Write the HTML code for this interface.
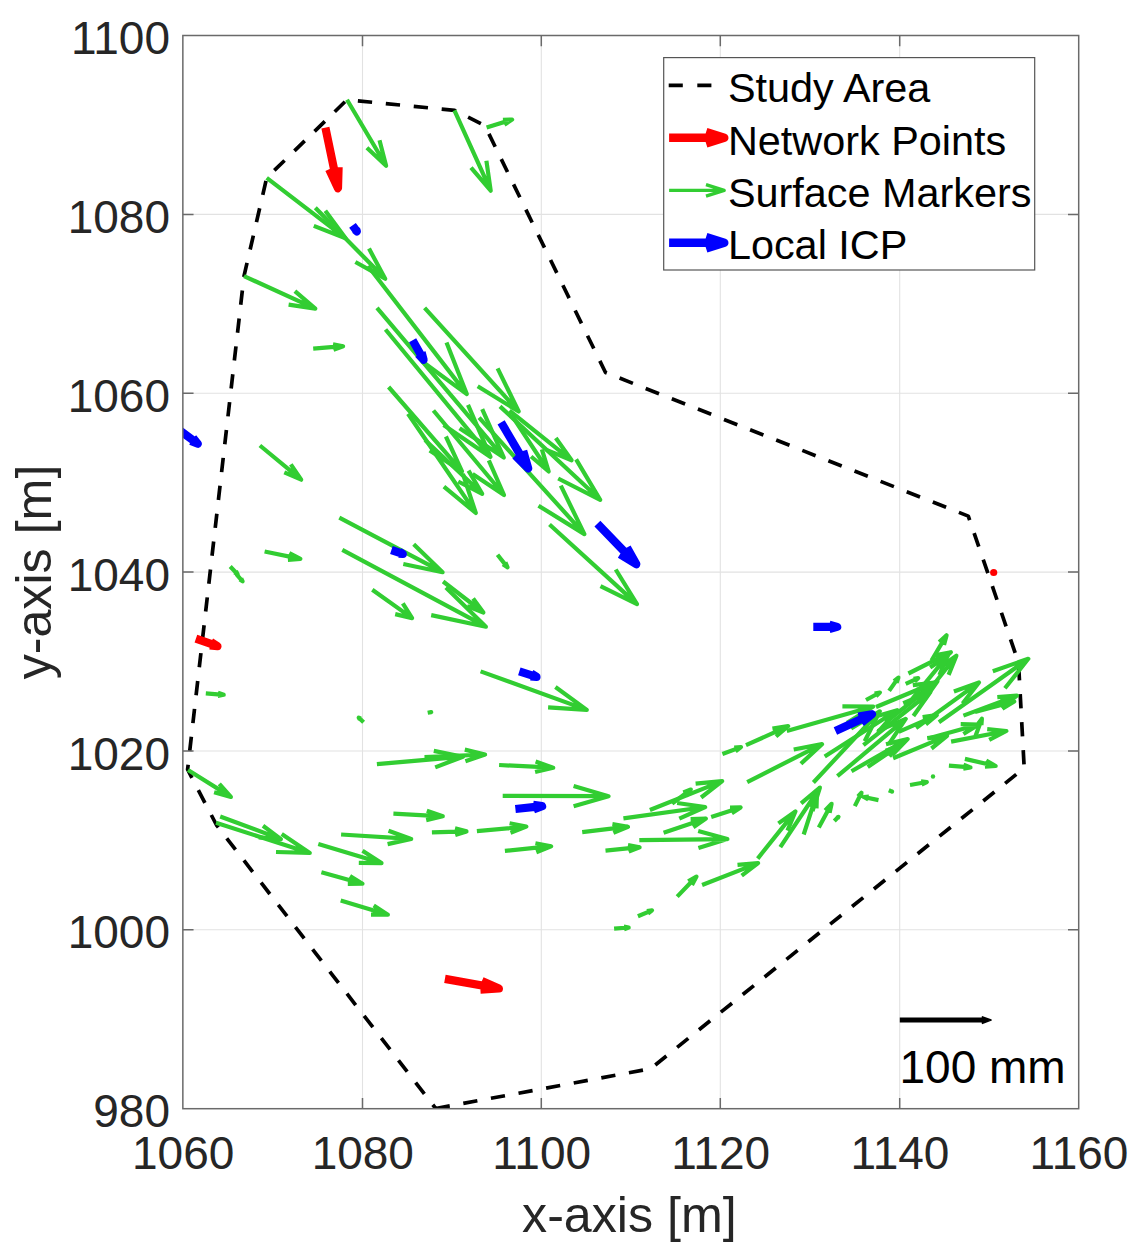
<!DOCTYPE html>
<html><head><meta charset="utf-8"><title>Displacement vectors</title>
<style>
html,body{margin:0;padding:0;background:#fff;}
body{width:1135px;height:1257px;position:relative;overflow:hidden;font-family:"Liberation Sans",sans-serif;}
.t{position:absolute;white-space:nowrap;line-height:1;font-family:"Liberation Sans",sans-serif;}
</style></head><body>
<svg width="1135" height="1257" viewBox="0 0 1135 1257" style="position:absolute;left:0;top:0">
<rect x="0" y="0" width="1135" height="1257" fill="#fff"/>
<path d="M362.5 35.5V1108.7M541.3 35.5V1108.7M720.3 35.5V1108.7M899.7 35.5V1108.7M182.85 929.8H1078.7M182.85 751.0H1078.7M182.85 572.1H1078.7M182.85 393.2H1078.7M182.85 214.4H1078.7" stroke="#e2e2e2" stroke-width="1.1" fill="none"/>
<defs><clipPath id="c"><rect x="182.85" y="35.5" width="895.85" height="1073.2"/></clipPath></defs>
<g clip-path="url(#c)">
<path d="M435.7 1108.5L650.5 1068.8L1024.2 768.0L1018.5 662.5L968.3 516.1L605.5 372.5L484.8 125.5L454.6 110.4L347.0 99.8L266.7 177.8L244.0 276.1L187.6 769.5L216.5 825.0L435.7 1108.5" fill="none" stroke="#000" stroke-width="3.7" stroke-dasharray="14.3 13.77" stroke-dashoffset="0" stroke-linejoin="round"/>
<path d="M325.4 127.6L338.0 188.2M329.1 169.2L338.0 188.2L338.6 167.2" stroke="#FF0000" stroke-width="8.2" fill="none" stroke-linejoin="round" stroke-linecap="butt"/>
<path d="M195.9 638.6L217.5 646.1M209.8 645.3L217.5 646.1L210.9 641.9" stroke="#FF0000" stroke-width="8.2" fill="none" stroke-linejoin="round" stroke-linecap="butt"/>
<path d="M444.9 978.9L498.9 988.5M480.4 989.6L498.9 988.5L481.9 981.0" stroke="#FF0000" stroke-width="8.2" fill="none" stroke-linejoin="round" stroke-linecap="butt"/>
<circle cx="993.7" cy="572.5" r="3.6" fill="#FF0000"/>
<path d="M347.0 99.8L386.1 165.7M366.9 147.7L386.1 165.7L379.5 140.2" stroke="#32CD32" stroke-width="4.2" fill="none" stroke-linejoin="round" stroke-linecap="butt"/>
<path d="M454.4 110.4L490.7 190.7M471.0 167.6L490.7 190.7L486.4 160.7" stroke="#32CD32" stroke-width="4.2" fill="none" stroke-linejoin="round" stroke-linecap="butt"/>
<path d="M486.6 127.6L512.1 119.6M504.4 124.7L512.1 119.6L502.9 119.8" stroke="#32CD32" stroke-width="4.2" fill="none" stroke-linejoin="round" stroke-linecap="butt"/>
<path d="M266.7 177.8L345.6 238.3M313.8 225.9L345.6 238.3L325.3 210.8" stroke="#32CD32" stroke-width="4.2" fill="none" stroke-linejoin="round" stroke-linecap="butt"/>
<path d="M315.3 207.7L385.2 278.7M355.4 262.0L385.2 278.7L369.0 248.6" stroke="#32CD32" stroke-width="4.2" fill="none" stroke-linejoin="round" stroke-linecap="butt"/>
<path d="M368.0 266.0L466.8 394.1M421.9 361.3L466.8 394.1L446.5 342.4" stroke="#32CD32" stroke-width="4.2" fill="none" stroke-linejoin="round" stroke-linecap="butt"/>
<path d="M244.0 276.1L315.3 308.7M288.6 304.7L315.3 308.7L294.9 291.1" stroke="#32CD32" stroke-width="4.2" fill="none" stroke-linejoin="round" stroke-linecap="butt"/>
<path d="M313.2 348.6L343.1 346.2M333.5 349.9L343.1 346.2L333.0 344.2" stroke="#32CD32" stroke-width="4.2" fill="none" stroke-linejoin="round" stroke-linecap="butt"/>
<path d="M259.9 445.5L301.2 479.7M284.3 472.3L301.2 479.7L290.8 464.4" stroke="#32CD32" stroke-width="4.2" fill="none" stroke-linejoin="round" stroke-linecap="butt"/>
<path d="M424.6 307.8L518.7 411.5M477.7 386.3L518.7 411.5L497.6 368.3" stroke="#32CD32" stroke-width="4.2" fill="none" stroke-linejoin="round" stroke-linecap="butt"/>
<path d="M377.0 307.8L503.8 457.6M459.6 428.2L503.8 457.6L482.2 409.1" stroke="#32CD32" stroke-width="4.2" fill="none" stroke-linejoin="round" stroke-linecap="butt"/>
<path d="M385.5 329.5L490.5 456.9M443.6 424.9L490.5 456.9L468.0 404.8" stroke="#32CD32" stroke-width="4.2" fill="none" stroke-linejoin="round" stroke-linecap="butt"/>
<path d="M388.6 387.0L462.0 471.4M429.7 450.6L462.0 471.4L445.9 436.5" stroke="#32CD32" stroke-width="4.2" fill="none" stroke-linejoin="round" stroke-linecap="butt"/>
<path d="M408.0 413.7L475.8 513.0M443.9 486.7L475.8 513.0L462.9 473.8" stroke="#32CD32" stroke-width="4.2" fill="none" stroke-linejoin="round" stroke-linecap="butt"/>
<path d="M433.4 410.5L504.0 495.0M472.6 473.9L504.0 495.0L488.8 460.4" stroke="#32CD32" stroke-width="4.2" fill="none" stroke-linejoin="round" stroke-linecap="butt"/>
<path d="M425.0 440.0L482.2 493.8M458.2 481.5L482.2 493.8L468.5 470.6" stroke="#32CD32" stroke-width="4.2" fill="none" stroke-linejoin="round" stroke-linecap="butt"/>
<path d="M500.0 406.4L600.2 499.8M558.2 478.5L600.2 499.8L576.1 459.4" stroke="#32CD32" stroke-width="4.2" fill="none" stroke-linejoin="round" stroke-linecap="butt"/>
<path d="M479.1 417.6L584.4 534.1M538.5 505.7L584.4 534.1L560.8 485.6" stroke="#32CD32" stroke-width="4.2" fill="none" stroke-linejoin="round" stroke-linecap="butt"/>
<path d="M549.5 524.5L637.0 604.1M600.5 586.2L637.0 604.1L615.7 569.5" stroke="#32CD32" stroke-width="4.2" fill="none" stroke-linejoin="round" stroke-linecap="butt"/>
<path d="M509.5 410.7L571.6 460.3M546.4 449.9L571.6 460.3L555.8 438.0" stroke="#32CD32" stroke-width="4.2" fill="none" stroke-linejoin="round" stroke-linecap="butt"/>
<path d="M511.7 415.4L548.7 471.5M531.1 456.5L548.7 471.5L541.9 449.4" stroke="#32CD32" stroke-width="4.2" fill="none" stroke-linejoin="round" stroke-linecap="butt"/>
<path d="M264.6 551.5L300.4 558.9M287.9 559.9L300.4 558.9L289.3 553.1" stroke="#32CD32" stroke-width="4.2" fill="none" stroke-linejoin="round" stroke-linecap="butt"/>
<path d="M230.2 566.5L237.6 574.2M234.4 572.4L237.6 574.2L235.9 571.0" stroke="#32CD32" stroke-width="4.2" fill="none" stroke-linejoin="round" stroke-linecap="butt"/>
<path d="M236.3 574.2L242.6 581.3M239.8 579.5L242.6 581.3L241.2 578.3" stroke="#32CD32" stroke-width="4.2" fill="none" stroke-linejoin="round" stroke-linecap="butt"/>
<path d="M339.3 517.6L442.6 572.2M403.3 564.0L442.6 572.2L413.7 544.3" stroke="#32CD32" stroke-width="4.2" fill="none" stroke-linejoin="round" stroke-linecap="butt"/>
<path d="M342.3 549.8L485.9 626.7M431.2 615.1L485.9 626.7L445.9 587.6" stroke="#32CD32" stroke-width="4.2" fill="none" stroke-linejoin="round" stroke-linecap="butt"/>
<path d="M443.1 581.5L483.4 612.5M467.1 606.1L483.4 612.5L473.1 598.4" stroke="#32CD32" stroke-width="4.2" fill="none" stroke-linejoin="round" stroke-linecap="butt"/>
<path d="M372.3 589.8L412.1 618.1M395.2 614.1L412.1 618.1L402.8 603.3" stroke="#32CD32" stroke-width="4.2" fill="none" stroke-linejoin="round" stroke-linecap="butt"/>
<path d="M497.5 554.8L507.5 567.4M503.0 564.2L507.5 567.4L505.4 562.3" stroke="#32CD32" stroke-width="4.2" fill="none" stroke-linejoin="round" stroke-linecap="butt"/>
<path d="M480.6 671.4L586.8 709.9M548.1 707.4L586.8 709.9L555.4 687.0" stroke="#32CD32" stroke-width="4.2" fill="none" stroke-linejoin="round" stroke-linecap="butt"/>
<path d="M205.8 693.4L223.7 694.8M217.7 696.0L223.7 694.8L217.9 692.6" stroke="#32CD32" stroke-width="4.2" fill="none" stroke-linejoin="round" stroke-linecap="butt"/>
<path d="M363.6 722.2L358.7 717.6M360.8 718.7L358.7 717.6L359.9 719.6" stroke="#32CD32" stroke-width="4.2" fill="none" stroke-linejoin="round" stroke-linecap="butt"/>
<path d="M188.0 770.0L230.9 796.9M214.1 792.2L230.9 796.9L219.3 783.9" stroke="#32CD32" stroke-width="4.2" fill="none" stroke-linejoin="round" stroke-linecap="butt"/>
<path d="M220.2 816.5L280.9 839.1M258.7 837.4L280.9 839.1L263.0 825.8" stroke="#32CD32" stroke-width="4.2" fill="none" stroke-linejoin="round" stroke-linecap="butt"/>
<path d="M216.0 822.8L309.8 852.9M276.0 852.0L309.8 852.9L281.7 834.0" stroke="#32CD32" stroke-width="4.2" fill="none" stroke-linejoin="round" stroke-linecap="butt"/>
<path d="M341.1 834.5L411.2 838.9M387.6 844.1L411.2 838.9L388.5 830.7" stroke="#32CD32" stroke-width="4.2" fill="none" stroke-linejoin="round" stroke-linecap="butt"/>
<path d="M318.3 844.0L381.5 863.1M358.8 862.8L381.5 863.1L362.5 850.7" stroke="#32CD32" stroke-width="4.2" fill="none" stroke-linejoin="round" stroke-linecap="butt"/>
<path d="M376.9 764.2L462.9 756.7M435.2 767.4L462.9 756.7L433.8 750.9" stroke="#32CD32" stroke-width="4.2" fill="none" stroke-linejoin="round" stroke-linecap="butt"/>
<path d="M424.5 757.2L485.1 754.5M465.4 761.2L485.1 754.5L464.8 749.6" stroke="#32CD32" stroke-width="4.2" fill="none" stroke-linejoin="round" stroke-linecap="butt"/>
<path d="M499.1 765.0L553.2 767.7M535.1 772.0L553.2 767.7L535.6 761.6" stroke="#32CD32" stroke-width="4.2" fill="none" stroke-linejoin="round" stroke-linecap="butt"/>
<path d="M502.7 795.9L608.5 796.2M573.6 806.2L608.5 796.2L573.6 786.0" stroke="#32CD32" stroke-width="4.2" fill="none" stroke-linejoin="round" stroke-linecap="butt"/>
<path d="M393.4 813.6L442.8 816.3M426.2 820.1L442.8 816.3L426.8 810.7" stroke="#32CD32" stroke-width="4.2" fill="none" stroke-linejoin="round" stroke-linecap="butt"/>
<path d="M431.9 832.3L466.5 831.4M455.2 835.0L466.5 831.4L455.0 828.4" stroke="#32CD32" stroke-width="4.2" fill="none" stroke-linejoin="round" stroke-linecap="butt"/>
<path d="M476.9 831.2L526.3 826.5M510.5 832.8L526.3 826.5L509.6 823.3" stroke="#32CD32" stroke-width="4.2" fill="none" stroke-linejoin="round" stroke-linecap="butt"/>
<path d="M504.9 850.9L551.1 846.2M536.3 852.2L551.1 846.2L535.4 843.3" stroke="#32CD32" stroke-width="4.2" fill="none" stroke-linejoin="round" stroke-linecap="butt"/>
<path d="M427.7 712.8L431.2 712.1M430.1 712.6L431.2 712.1L430.0 712.0" stroke="#32CD32" stroke-width="4.2" fill="none" stroke-linejoin="round" stroke-linecap="butt"/>
<path d="M321.4 872.3L362.5 883.7M347.8 883.9L362.5 883.7L350.0 876.0" stroke="#32CD32" stroke-width="4.2" fill="none" stroke-linejoin="round" stroke-linecap="butt"/>
<path d="M340.7 900.6L387.9 914.7M371.0 914.6L387.9 914.7L373.7 905.5" stroke="#32CD32" stroke-width="4.2" fill="none" stroke-linejoin="round" stroke-linecap="butt"/>
<path d="M582.2 832.2L628.0 826.7M613.4 832.9L628.0 826.7L612.4 824.1" stroke="#32CD32" stroke-width="4.2" fill="none" stroke-linejoin="round" stroke-linecap="butt"/>
<path d="M605.5 850.6L639.6 847.2M628.7 851.6L639.6 847.2L628.0 845.0" stroke="#32CD32" stroke-width="4.2" fill="none" stroke-linejoin="round" stroke-linecap="butt"/>
<path d="M623.4 818.4L705.2 807.0M679.3 818.6L705.2 807.0L677.1 803.0" stroke="#32CD32" stroke-width="4.2" fill="none" stroke-linejoin="round" stroke-linecap="butt"/>
<path d="M649.9 810.0L722.2 781.1M701.1 797.5L722.2 781.1L695.6 783.7" stroke="#32CD32" stroke-width="4.2" fill="none" stroke-linejoin="round" stroke-linecap="butt"/>
<path d="M672.1 803.6L690.8 789.5M686.0 795.9L690.8 789.5L683.3 792.4" stroke="#32CD32" stroke-width="4.2" fill="none" stroke-linejoin="round" stroke-linecap="butt"/>
<path d="M663.6 832.8L705.9 818.6M693.3 827.3L705.9 818.6L690.6 819.2" stroke="#32CD32" stroke-width="4.2" fill="none" stroke-linejoin="round" stroke-linecap="butt"/>
<path d="M711.2 816.9L740.6 807.4M731.8 813.3L740.6 807.4L730.0 807.7" stroke="#32CD32" stroke-width="4.2" fill="none" stroke-linejoin="round" stroke-linecap="butt"/>
<path d="M639.3 840.2L727.4 839.1M698.4 847.9L727.4 839.1L698.2 831.0" stroke="#32CD32" stroke-width="4.2" fill="none" stroke-linejoin="round" stroke-linecap="butt"/>
<path d="M722.4 754.0L741.0 747.1M735.5 751.2L741.0 747.1L734.2 747.6" stroke="#32CD32" stroke-width="4.2" fill="none" stroke-linejoin="round" stroke-linecap="butt"/>
<path d="M746.0 745.2L788.1 726.2M776.0 736.5L788.1 726.2L772.4 728.5" stroke="#32CD32" stroke-width="4.2" fill="none" stroke-linejoin="round" stroke-linecap="butt"/>
<path d="M786.8 730.9L873.3 706.5M847.1 722.8L873.3 706.5L842.4 706.3" stroke="#32CD32" stroke-width="4.2" fill="none" stroke-linejoin="round" stroke-linecap="butt"/>
<path d="M747.2 782.1L822.0 744.1M800.9 763.8L822.0 744.1L793.7 749.5" stroke="#32CD32" stroke-width="4.2" fill="none" stroke-linejoin="round" stroke-linecap="butt"/>
<path d="M702.1 885.0L758.1 863.1M741.7 875.7L758.1 863.1L737.5 864.9" stroke="#32CD32" stroke-width="4.2" fill="none" stroke-linejoin="round" stroke-linecap="butt"/>
<path d="M677.2 896.6L696.5 876.5M692.0 885.0L696.5 876.5L688.2 881.3" stroke="#32CD32" stroke-width="4.2" fill="none" stroke-linejoin="round" stroke-linecap="butt"/>
<path d="M757.7 858.6L795.4 811.4M787.5 830.6L795.4 811.4L778.4 823.4" stroke="#32CD32" stroke-width="4.2" fill="none" stroke-linejoin="round" stroke-linecap="butt"/>
<path d="M780.3 847.1L819.9 787.5M812.5 811.0L819.9 787.5L801.1 803.4" stroke="#32CD32" stroke-width="4.2" fill="none" stroke-linejoin="round" stroke-linecap="butt"/>
<path d="M803.7 834.5L816.9 793.7M816.5 808.4L816.9 793.7L808.7 805.9" stroke="#32CD32" stroke-width="4.2" fill="none" stroke-linejoin="round" stroke-linecap="butt"/>
<path d="M818.8 827.6L831.6 803.8M829.6 812.9L831.6 803.8L825.1 810.4" stroke="#32CD32" stroke-width="4.2" fill="none" stroke-linejoin="round" stroke-linecap="butt"/>
<path d="M834.3 821.0L838.5 816.8M837.5 818.6L838.5 816.8L836.7 817.8" stroke="#32CD32" stroke-width="4.2" fill="none" stroke-linejoin="round" stroke-linecap="butt"/>
<path d="M854.8 806.1L861.5 792.7M860.6 797.8L861.5 792.7L858.0 796.5" stroke="#32CD32" stroke-width="4.2" fill="none" stroke-linejoin="round" stroke-linecap="butt"/>
<path d="M878.5 800.1L863.8 797.0M868.9 796.6L863.8 797.0L868.3 799.4" stroke="#32CD32" stroke-width="4.2" fill="none" stroke-linejoin="round" stroke-linecap="butt"/>
<path d="M888.8 790.2L892.1 791.6M890.9 791.5L892.1 791.6L891.2 790.8" stroke="#32CD32" stroke-width="4.2" fill="none" stroke-linejoin="round" stroke-linecap="butt"/>
<path d="M910.0 785.0L926.8 782.0M921.6 784.6L926.8 782.0L921.0 781.4" stroke="#32CD32" stroke-width="4.2" fill="none" stroke-linejoin="round" stroke-linecap="butt"/>
<circle cx="933" cy="776.5" r="2.2" fill="#32CD32"/>
<path d="M948.9 765.6L970.5 767.4M963.2 768.8L970.5 767.4L963.5 764.7" stroke="#32CD32" stroke-width="4.2" fill="none" stroke-linejoin="round" stroke-linecap="butt"/>
<path d="M964.9 758.9L995.7 766.0M984.9 766.6L995.7 766.0L986.2 760.7" stroke="#32CD32" stroke-width="4.2" fill="none" stroke-linejoin="round" stroke-linecap="butt"/>
<path d="M614.1 928.7L628.7 927.5M624.0 929.3L628.7 927.5L623.8 926.5" stroke="#32CD32" stroke-width="4.2" fill="none" stroke-linejoin="round" stroke-linecap="butt"/>
<path d="M637.9 916.3L652.0 910.4M647.9 913.7L652.0 910.4L646.8 911.0" stroke="#32CD32" stroke-width="4.2" fill="none" stroke-linejoin="round" stroke-linecap="butt"/>
<path d="M813.4 782.5L879.8 711.3M864.7 741.2L879.8 711.3L851.1 728.5" stroke="#32CD32" stroke-width="4.2" fill="none" stroke-linejoin="round" stroke-linecap="butt"/>
<path d="M837.4 776.2L905.7 718.9M888.7 744.3L905.7 718.9L877.7 731.2" stroke="#32CD32" stroke-width="4.2" fill="none" stroke-linejoin="round" stroke-linecap="butt"/>
<path d="M876.0 707.0L934.3 682.7M917.4 696.3L934.3 682.7L912.8 685.1" stroke="#32CD32" stroke-width="4.2" fill="none" stroke-linejoin="round" stroke-linecap="butt"/>
<path d="M851.5 771.2L907.6 739.0M892.2 755.0L907.6 739.0L886.0 744.3" stroke="#32CD32" stroke-width="4.2" fill="none" stroke-linejoin="round" stroke-linecap="butt"/>
<path d="M867.7 767.0L897.2 746.9M889.4 756.4L897.2 746.9L885.6 750.7" stroke="#32CD32" stroke-width="4.2" fill="none" stroke-linejoin="round" stroke-linecap="butt"/>
<path d="M824.7 756.4L897.2 710.2M877.7 732.4L897.2 710.2L868.8 718.5" stroke="#32CD32" stroke-width="4.2" fill="none" stroke-linejoin="round" stroke-linecap="butt"/>
<path d="M863.4 745.2L930.4 692.0M913.4 716.0L930.4 692.0L903.2 703.2" stroke="#32CD32" stroke-width="4.2" fill="none" stroke-linejoin="round" stroke-linecap="butt"/>
<path d="M886.0 722.0L937.5 681.4M924.4 699.7L937.5 681.4L916.6 689.9" stroke="#32CD32" stroke-width="4.2" fill="none" stroke-linejoin="round" stroke-linecap="butt"/>
<path d="M898.7 731.8L936.8 715.1M925.8 724.3L936.8 715.1L922.6 717.0" stroke="#32CD32" stroke-width="4.2" fill="none" stroke-linejoin="round" stroke-linecap="butt"/>
<path d="M905.7 683.8L918.2 678.2M914.6 681.3L918.2 678.2L913.5 678.9" stroke="#32CD32" stroke-width="4.2" fill="none" stroke-linejoin="round" stroke-linecap="butt"/>
<path d="M866.0 700.0L879.9 692.5M876.0 696.3L879.9 692.5L874.6 693.6" stroke="#32CD32" stroke-width="4.2" fill="none" stroke-linejoin="round" stroke-linecap="butt"/>
<path d="M889.1 690.9L898.4 677.6M896.6 682.9L898.4 677.6L894.0 681.1" stroke="#32CD32" stroke-width="4.2" fill="none" stroke-linejoin="round" stroke-linecap="butt"/>
<path d="M931.5 660.5L946.6 635.2M944.0 645.0L946.6 635.2L939.2 642.1" stroke="#32CD32" stroke-width="4.2" fill="none" stroke-linejoin="round" stroke-linecap="butt"/>
<path d="M908.4 673.5L950.9 652.2M938.9 663.3L950.9 652.2L934.8 655.2" stroke="#32CD32" stroke-width="4.2" fill="none" stroke-linejoin="round" stroke-linecap="butt"/>
<path d="M919.0 703.0L956.4 655.7M948.6 674.9L956.4 655.7L939.5 667.7" stroke="#32CD32" stroke-width="4.2" fill="none" stroke-linejoin="round" stroke-linecap="butt"/>
<path d="M908.0 704.0L947.9 655.4M939.4 675.2L947.9 655.4L930.1 667.6" stroke="#32CD32" stroke-width="4.2" fill="none" stroke-linejoin="round" stroke-linecap="butt"/>
<path d="M938.9 722.2L1028.3 658.8M1004.9 688.3L1028.3 658.8L992.8 671.2" stroke="#32CD32" stroke-width="4.2" fill="none" stroke-linejoin="round" stroke-linecap="butt"/>
<path d="M916.0 728.0L979.0 682.4M962.6 703.5L979.0 682.4L953.9 691.4" stroke="#32CD32" stroke-width="4.2" fill="none" stroke-linejoin="round" stroke-linecap="butt"/>
<path d="M963.4 715.6L1016.9 695.6M1001.2 707.3L1016.9 695.6L997.3 697.1" stroke="#32CD32" stroke-width="4.2" fill="none" stroke-linejoin="round" stroke-linecap="butt"/>
<path d="M975.0 712.0L1014.3 701.5M1002.3 708.7L1014.3 701.5L1000.3 701.2" stroke="#32CD32" stroke-width="4.2" fill="none" stroke-linejoin="round" stroke-linecap="butt"/>
<path d="M951.1 741.6L1006.4 731.0M989.2 739.8L1006.4 731.0L987.2 729.2" stroke="#32CD32" stroke-width="4.2" fill="none" stroke-linejoin="round" stroke-linecap="butt"/>
<path d="M975.5 736.0L981.9 718.7M981.4 725.0L981.9 718.7L978.1 723.8" stroke="#32CD32" stroke-width="4.2" fill="none" stroke-linejoin="round" stroke-linecap="butt"/>
<path d="M893.1 758.3L947.1 735.9M931.4 748.5L947.1 735.9L927.2 738.1" stroke="#32CD32" stroke-width="4.2" fill="none" stroke-linejoin="round" stroke-linecap="butt"/>
<path d="M928.0 738.5L978.8 724.5M963.4 734.0L978.8 724.5L960.7 724.2" stroke="#32CD32" stroke-width="4.2" fill="none" stroke-linejoin="round" stroke-linecap="butt"/>
<path d="M180.0 430.6L197.8 443.8M190.8 441.0L197.8 443.8L193.0 437.9" stroke="#0000FF" stroke-width="8.2" fill="none" stroke-linejoin="round" stroke-linecap="butt"/>
<path d="M352.5 225.3L356.9 231.4M354.9 229.7L356.9 231.4L356.0 229.0" stroke="#0000FF" stroke-width="8.2" fill="none" stroke-linejoin="round" stroke-linecap="butt"/>
<path d="M412.6 340.2L423.6 359.7M418.3 354.2L423.6 359.7L421.6 352.3" stroke="#0000FF" stroke-width="8.2" fill="none" stroke-linejoin="round" stroke-linecap="butt"/>
<path d="M501.1 422.3L528.2 468.4M515.3 455.5L528.2 468.4L523.2 450.9" stroke="#0000FF" stroke-width="8.2" fill="none" stroke-linejoin="round" stroke-linecap="butt"/>
<path d="M597.4 523.7L636.4 564.2M620.0 554.2L636.4 564.2L627.0 547.5" stroke="#0000FF" stroke-width="8.2" fill="none" stroke-linejoin="round" stroke-linecap="butt"/>
<path d="M391.4 550.0L402.8 553.9M398.7 553.6L402.8 553.9L399.3 551.6" stroke="#0000FF" stroke-width="8.2" fill="none" stroke-linejoin="round" stroke-linecap="butt"/>
<path d="M519.3 671.4L536.5 676.8M530.4 676.5L536.5 676.8L531.3 673.6" stroke="#0000FF" stroke-width="8.2" fill="none" stroke-linejoin="round" stroke-linecap="butt"/>
<path d="M515.4 809.0L542.1 806.1M533.5 809.4L542.1 806.1L533.1 804.8" stroke="#0000FF" stroke-width="8.2" fill="none" stroke-linejoin="round" stroke-linecap="butt"/>
<path d="M813.3 626.9L837.2 626.9M829.3 629.0L837.2 626.9L829.3 624.8" stroke="#0000FF" stroke-width="8.2" fill="none" stroke-linejoin="round" stroke-linecap="butt"/>
<path d="M835.4 730.9L871.9 714.2M861.3 722.8L871.9 714.2L858.4 716.6" stroke="#0000FF" stroke-width="8.2" fill="none" stroke-linejoin="round" stroke-linecap="butt"/>
</g>
<path d="M362.5 1108.7v-10.7M362.5 35.5v10.7M541.3 1108.7v-10.7M541.3 35.5v10.7M720.3 1108.7v-10.7M720.3 35.5v10.7M899.7 1108.7v-10.7M899.7 35.5v10.7M182.85 929.8h10.7M1078.7 929.8h-10.7M182.85 751.0h10.7M1078.7 751.0h-10.7M182.85 572.1h10.7M1078.7 572.1h-10.7M182.85 393.2h10.7M1078.7 393.2h-10.7M182.85 214.4h10.7M1078.7 214.4h-10.7" stroke="#6a6a6a" stroke-width="1.5" fill="none"/>
<rect x="182.85" y="35.5" width="895.85" height="1073.2" fill="none" stroke="#6a6a6a" stroke-width="1.5"/>
<path d="M899.8 1020.1H984" stroke="#000" stroke-width="5" fill="none"/>
<path d="M982.5 1016.9L991 1020.1L982.5 1023.3Z" fill="#000" stroke="#000" stroke-width="1.6" stroke-linejoin="round"/>
<rect x="663.7" y="57.6" width="371" height="212.4" fill="#fff" stroke="#555" stroke-width="1.2"/>
<path d="M668.7 85.4H711.5" stroke="#000" stroke-width="3.6" stroke-dasharray="14.1 14.5" fill="none"/>
<path d="M669.1 137.7L724.3 137.7M706.1 143.5L724.3 137.7L706.1 131.9" stroke="#FF0000" stroke-width="8.4" fill="none" stroke-linejoin="round" stroke-linecap="butt"/>
<path d="M669.1 190.4L724.2 190.4M706.0 196.2L724.2 190.4L706.0 184.6" stroke="#32CD32" stroke-width="3.4" fill="none" stroke-linejoin="round" stroke-linecap="butt"/>
<path d="M669.1 242.7L724.3 242.7M706.1 248.5L724.3 242.7L706.1 236.9" stroke="#0000FF" stroke-width="8.4" fill="none" stroke-linejoin="round" stroke-linecap="butt"/>
</svg>
<div class="t" style="left:183.15px;top:1130.36px;font-size:46px;color:#262626;transform:translateX(-50%);">1060</div><div class="t" style="left:362.8px;top:1130.36px;font-size:46px;color:#262626;transform:translateX(-50%);">1080</div><div class="t" style="left:541.5999999999999px;top:1130.36px;font-size:46px;color:#262626;transform:translateX(-50%);">1100</div><div class="t" style="left:720.5999999999999px;top:1130.36px;font-size:46px;color:#262626;transform:translateX(-50%);">1120</div><div class="t" style="left:900.0px;top:1130.36px;font-size:46px;color:#262626;transform:translateX(-50%);">1140</div><div class="t" style="left:1079.0px;top:1130.36px;font-size:46px;color:#262626;transform:translateX(-50%);">1160</div><div class="t" style="left:170px;top:1088.26px;font-size:46px;color:#262626;transform:translateX(-100%);">980</div><div class="t" style="left:170px;top:909.39px;font-size:46px;color:#262626;transform:translateX(-100%);">1000</div><div class="t" style="left:170px;top:730.53px;font-size:46px;color:#262626;transform:translateX(-100%);">1020</div><div class="t" style="left:170px;top:551.66px;font-size:46px;color:#262626;transform:translateX(-100%);">1040</div><div class="t" style="left:170px;top:372.79px;font-size:46px;color:#262626;transform:translateX(-100%);">1060</div><div class="t" style="left:170px;top:193.93px;font-size:46px;color:#262626;transform:translateX(-100%);">1080</div><div class="t" style="left:170px;top:15.06px;font-size:46px;color:#262626;transform:translateX(-100%);">1100</div><div class="t" style="left:629.4px;top:1189.71px;font-size:50.2px;color:#262626;transform:translateX(-50%);">x-axis [m]</div><div class="t" style="left:33.6px;top:572.1px;font-size:50.2px;color:#262626;transform:translate(-50%,-50%) rotate(-90deg);">y-axis [m]</div><div class="t" style="left:727.9px;top:68.15px;font-size:41.4px;color:#000;">Study Area</div><div class="t" style="left:727.9px;top:120.55px;font-size:41.4px;color:#000;">Network Points</div><div class="t" style="left:727.9px;top:172.95px;font-size:41.4px;color:#000;">Surface Markers</div><div class="t" style="left:727.9px;top:225.35px;font-size:41.4px;color:#000;">Local ICP</div><div class="t" style="left:899.5px;top:1043.76px;font-size:46px;color:#000;">100 mm</div>
</body></html>
